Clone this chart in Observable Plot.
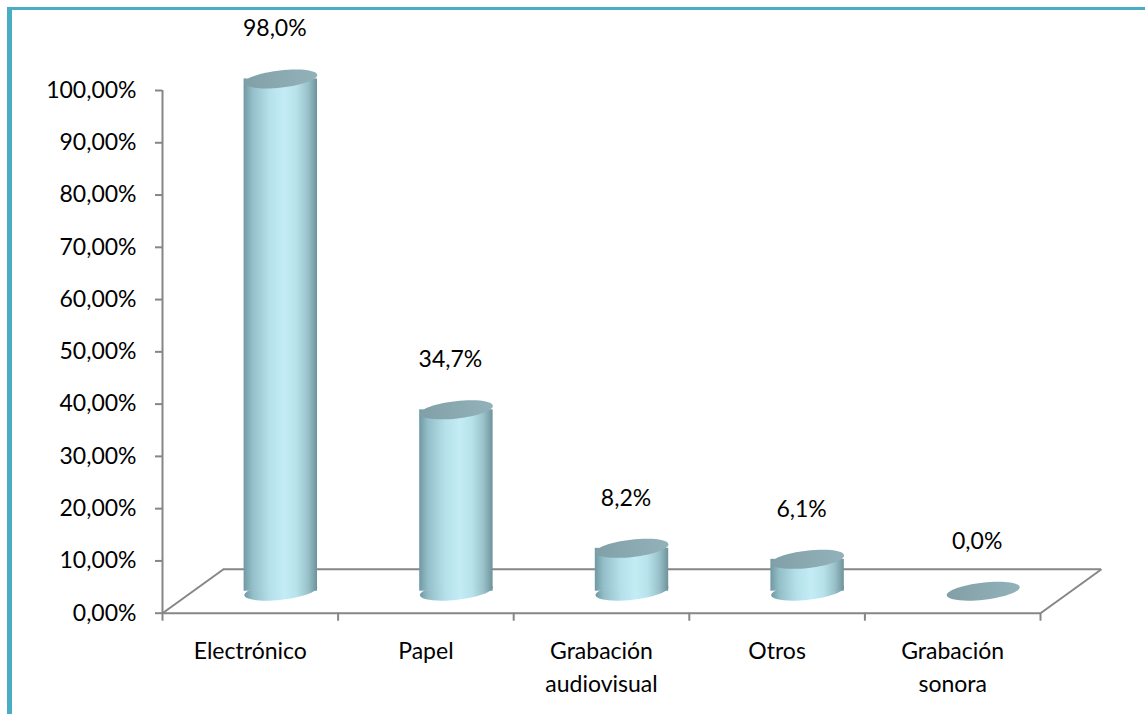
<!DOCTYPE html>
<html>
<head>
<meta charset="utf-8">
<script src="https://cdn.jsdelivr.net/npm/d3@7"></script>
<script src="https://cdn.jsdelivr.net/npm/@observablehq/plot@0.6"></script>
<style>
  html, body { margin: 0; padding: 0; background: #fff; overflow: hidden; }
  #wrap { position: relative; width: 1145px; height: 714px; }
  #border { position: absolute; left: 7px; top: 7px; width: 1200px; height: 800px;
            border-top: 3px solid #4bacc6; border-left: 5px solid #4bacc6; pointer-events: none; }
  #chart { position: absolute; left: 0; top: 0; }
</style>
</head>
<body>
<div id="wrap"><div id="chart"></div><div id="border"></div></div>
<script>
// ---- data ----
const categories = ["Electrónico", "Papel", "Grabación\naudiovisual", "Otros", "Grabación\nsonora"];
const values = [98.0, 34.7, 8.2, 6.1, 0.0];
const valueLabels = ["98,0%", "34,7%", "8,2%", "6,1%", "0,0%"];
const yTicks = [0, 10, 20, 30, 40, 50, 60, 70, 80, 90, 100];

const rows = categories.map((c, i) => ({cat: c, i, pos: i + 0.5, v: values[i], label: valueLabels[i]}));

// ---- layout constants (pixels) ----
const W = 1145, H = 714;
const mL = 162, mR = W - 1040, mT = 90, mB = H - 612.7;
const pxPerUnitX = (W - mL - mR) / categories.length;
const pxPerPct = (H - mT - mB) / 100;
const depthDx = 61, depthDy = -44;     // floor depth offset
const cylDx = depthDx / 2, cylDy = depthDy / 2; // cylinder sits at mid-depth
const cylR = 36.7;                        // cylinder radius in px
const halfW = cylR / pxPerUnitX;          // half width in x units
const axisColor = "#868686";
const font = "Lato, 'Noto Sans', sans-serif";
const fs = 23;

// ellipse symbol (tilted) for cylinder caps
const ellipseSymbol = {
  draw(ctx, size) {
    const rx = Math.sqrt(size / Math.PI), ry = rx * 0.235, a = -6.5 * Math.PI / 180;
    const k = 0.5523, ca = Math.cos(a), sa = Math.sin(a);
    const P = (x, y) => [x * ca - y * sa, x * sa + y * ca];
    const pts = [
      [[rx, 0]],
      [[rx, ry * k], [rx * k, ry], [0, ry]],
      [[-rx * k, ry], [-rx, ry * k], [-rx, 0]],
      [[-rx, -ry * k], [-rx * k, -ry], [0, -ry]],
      [[rx * k, -ry], [rx, -ry * k], [rx, 0]]
    ];
    const s = P(...pts[0][0]);
    ctx.moveTo(s[0], s[1]);
    for (let j = 1; j < pts.length; j++) {
      const [c1, c2, e] = pts[j].map(p => P(...p));
      ctx.bezierCurveTo(c1[0], c1[1], c2[0], c2[1], e[0], e[1]);
    }
    ctx.closePath();
  }
};

const pctFmt = d => d.toFixed(2).replace(".", ",") + "%";
const bars = rows.filter(d => d.v > 0);

const plot = Plot.plot({
  width: W, height: H,
  marginLeft: mL, marginRight: mR, marginTop: mT, marginBottom: mB,
  style: {fontFamily: font, fontSize: fs + "px", color: "#000", background: "transparent", overflow: "visible"},
  x: {domain: [0, categories.length], axis: null},
  y: {domain: [0, 100], axis: null},
  marks: [
    // floor: front and back edges plus sides
    Plot.ruleY([0], {stroke: axisColor, strokeWidth: 2}),
    Plot.ruleY([0], {stroke: axisColor, strokeWidth: 2, dx: depthDx, dy: depthDy}),
    Plot.link([0, categories.length], {
      x1: d => d, y1: 0,
      x2: d => d + depthDx / pxPerUnitX, y2: -depthDy / pxPerPct,
      stroke: axisColor, strokeWidth: 2
    }),
    // y axis
    Plot.ruleX([0], {stroke: axisColor, strokeWidth: 2}),
    Plot.axisY({ticks: yTicks, tickSize: 7, tickPadding: 19, tickFormat: pctFmt, label: null,
      stroke: axisColor, strokeWidth: 2, fontSize: fs, fill: "#000"}),
    // x axis ticks
    Plot.axisX({ticks: d3.range(0, categories.length + 1), tickSize: 8, tickFormat: () => "", label: null,
      stroke: axisColor, strokeWidth: 2}),
    // category labels
    Plot.text(rows, {x: "pos", y: () => 0, text: "cat", lineAnchor: "top", dy: 23,
      lineHeight: 1.42, fontSize: fs, fill: "#000"}),
    // cylinders: bottom cap, body, top cap
    Plot.dot(bars, {x: "pos", y: () => 0, dx: cylDx, dy: cylDy, r: cylR, symbol: ellipseSymbol,
      fill: "url(#cylBody)", stroke: "none"}),
    Plot.rect(bars, {x1: d => d.pos - halfW, x2: d => d.pos + halfW, y1: () => 0, y2: "v",
      dx: cylDx, dy: cylDy, fill: "url(#cylBody)"}),
    Plot.dot(rows, {x: "pos", y: "v", dx: cylDx, dy: cylDy, r: cylR, symbol: ellipseSymbol,
      fill: "url(#cylTop)", stroke: "none"}),
    // value labels
    Plot.text(rows, {x: "pos", y: "v", text: "label", dx: cylDx - 6, dy: cylDy - 50,
      fontSize: fs, fill: "#000"})
  ]
});

const svg = d3.select(plot);
const defs = svg.insert("defs", ":first-child");
const g = defs.append("linearGradient").attr("id", "cylBody")
  .attr("x1", "0").attr("x2", "1").attr("y1", "0").attr("y2", "0");
[["0", "#6f98a2"], ["0.12", "#94bfc9"], ["0.35", "#b5e0ea"], ["0.55", "#c3ecf5"],
 ["0.72", "#b8e2eb"], ["0.88", "#98c0c9"], ["1", "#6e929a"]]
  .forEach(([o, c]) => g.append("stop").attr("offset", o).attr("stop-color", c));
const t = defs.append("linearGradient").attr("id", "cylTop")
  .attr("x1", "0").attr("x2", "1").attr("y1", "0").attr("y2", "0");
[["0", "#809fa7"], ["0.5", "#8aa9b1"], ["1", "#93b1b8"]]
  .forEach(([o, c]) => t.append("stop").attr("offset", o).attr("stop-color", c));

document.getElementById("chart").appendChild(plot);
</script>
</body>
</html>
